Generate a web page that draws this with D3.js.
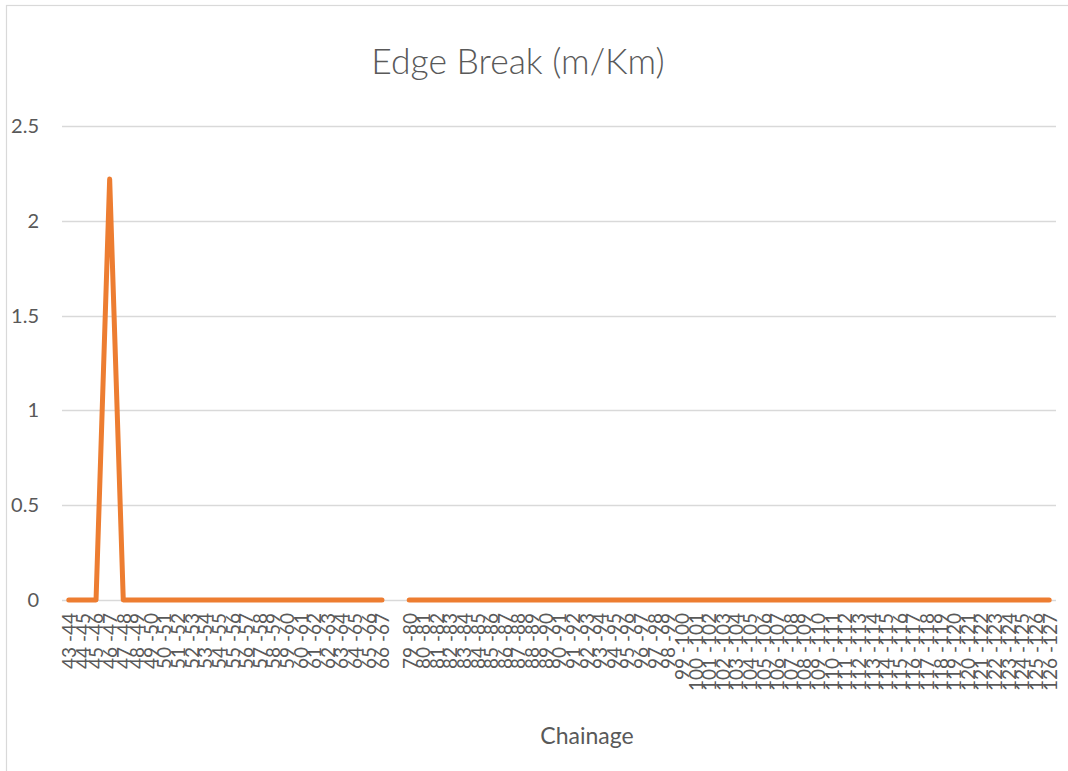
<!DOCTYPE html>
<html>
<head>
<meta charset="utf-8">
<script src="https://cdn.jsdelivr.net/npm/d3@7"></script>
<style>
  html, body { margin: 0; padding: 0; background: #fff; }
  svg { display: block; }
</style>
</head>
<body>
<script>
// Chainage sections (km from - km to); the empty entry marks a missing section
const firstRun = d3.range(43, 67).map(k => k + " -" + (k + 1));
const secondRun = d3.range(79, 127).map(k => k + " -" + (k + 1));
const categories = [...firstRun, "", ...secondRun];

// Edge break (m/Km) per section; null leaves a gap in the line
const edgeBreakFirst = [0, 0, 0, 2.22, 0, 0, 0, 0, 0, 0, 0, 0, 0, 0, 0, 0, 0, 0, 0, 0, 0, 0, 0, 0];
const edgeBreakSecond = [0, 0, 0, 0, 0, 0, 0, 0, 0, 0, 0, 0, 0, 0, 0, 0,
                         0, 0, 0, 0, 0, 0, 0, 0, 0, 0, 0, 0, 0, 0, 0, 0,
                         0, 0, 0, 0, 0, 0, 0, 0, 0, 0, 0, 0, 0, 0, 0, 0];
const values = [...edgeBreakFirst, null, ...edgeBreakSecond];

const yTicks = [0, 0.5, 1, 1.5, 2, 2.5];

const W = 1068, H = 771;
const plot = { left: 62, right: 1056, top: 126, bottom: 600 };
const textColor = "#595959";
const gridColor = "#d9d9d9";
const font = "Lato, 'Open Sans', sans-serif";

const svg = d3.select("body").append("svg")
  .attr("width", W).attr("height", H);

// chart frame
svg.append("rect")
  .attr("x", 6.5).attr("y", 5.5)
  .attr("width", W + 20).attr("height", H + 20)
  .attr("fill", "#fff").attr("stroke", gridColor).attr("stroke-width", 1.2);

const x = d3.scalePoint()
  .domain(d3.range(categories.length))
  .range([plot.left, plot.right])
  .padding(0.5);

const y = d3.scaleLinear()
  .domain([0, 2.5])
  .range([plot.bottom, plot.top]);

// horizontal gridlines
svg.append("g")
  .selectAll("line")
  .data(yTicks)
  .join("line")
  .attr("x1", plot.left).attr("x2", plot.right)
  .attr("y1", d => Math.round(y(d)) + 0.5).attr("y2", d => Math.round(y(d)) + 0.5)
  .attr("stroke", gridColor).attr("stroke-width", 1.3);

// value axis labels
const yAxis = d3.axisLeft(y).tickValues(yTicks).tickFormat(d3.format("")).tickSize(0).tickPadding(0);
const yg = svg.append("g").attr("transform", "translate(39,0)").call(yAxis);
yg.select(".domain").remove();
yg.selectAll("text")
  .attr("fill", textColor)
  .style("font-family", font).style("font-size", "20px");

// category axis labels, rotated
const xAxis = d3.axisBottom(x).tickFormat(i => categories[i]).tickSize(0).tickPadding(0);
const xg = svg.append("g").attr("transform", "translate(0,613)").call(xAxis);
xg.select(".domain").remove();
xg.selectAll("text")
  .attr("fill", textColor)
  .style("font-family", font).style("font-size", "19px")
  .attr("text-anchor", "end")
  .attr("transform", "rotate(-90)")
  .attr("x", 0).attr("y", 0).attr("dy", "0.36em");

// series line
const line = d3.line()
  .defined(d => d != null)
  .x((d, i) => x(i))
  .y(d => y(d));

svg.append("path")
  .datum(values)
  .attr("d", line)
  .attr("fill", "none")
  .attr("stroke", "#ED7D31")
  .attr("stroke-width", 5)
  .attr("stroke-linejoin", "round")
  .attr("stroke-linecap", "round");

// titles
svg.append("text")
  .attr("x", 518).attr("y", 74)
  .attr("text-anchor", "middle")
  .attr("fill", textColor)
  .style("font-family", font).style("font-size", "35.5px")
  .style("font-weight", 300)
  .text("Edge Break (m/Km)");

svg.append("text")
  .attr("x", 587).attr("y", 744)
  .attr("text-anchor", "middle")
  .attr("fill", textColor)
  .style("font-family", font).style("font-size", "23px")
  .text("Chainage");
</script>
</body>
</html>
